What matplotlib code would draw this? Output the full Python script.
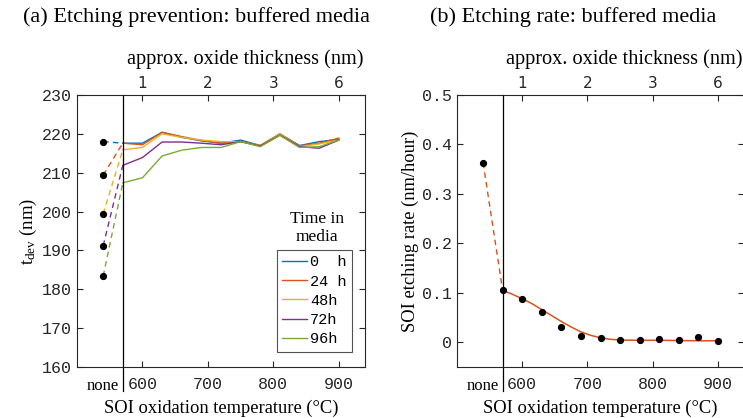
import numpy as np
import matplotlib
matplotlib.use("Agg")
import matplotlib.pyplot as plt

plt.rcParams['mathtext.fontset'] = 'custom'
plt.rcParams['mathtext.rm'] = 'Liberation Serif'
plt.rcParams['mathtext.it'] = 'Liberation Serif'

# ---- data ----
temps = [570, 600, 630, 660, 690, 720, 750, 780, 810, 840, 870, 900]
none_x = 540
series_labels = ["0  h", "24 h", "48h", "72h", "96h"]
series_colors = ["#0072BD", "#D95319", "#EDB120", "#7E2F8E", "#77AC30"]
none_tdev = [218.0, 209.4, 199.4, 191.2, 183.4]
tdev_0h = [217.6, 217.6, 220.4, 219.1, 218.2, 217.6, 218.4, 217.0, 220.0, 217.0, 218.0, 218.6]
tdev_24h = [217.6, 217.2, 220.4, 219.3, 218.3, 217.6, 218.0, 217.0, 220.0, 216.9, 217.6, 218.9]
tdev_48h = [215.9, 216.5, 220.0, 219.1, 218.4, 218.0, 218.0, 217.0, 220.0, 216.7, 217.4, 218.4]
tdev_72h = [211.9, 213.9, 217.9, 217.9, 217.6, 217.2, 218.0, 216.9, 219.7, 216.7, 216.3, 218.4]
tdev_96h = [207.4, 208.7, 214.3, 215.8, 216.5, 216.5, 218.0, 216.7, 219.6, 216.5, 216.7, 218.4]
tdev_all = [tdev_0h, tdev_24h, tdev_48h, tdev_72h, tdev_96h]

rate_none = 0.363
rate = [0.105, 0.0865, 0.061, 0.031, 0.0135, 0.0087, 0.0047, 0.0047, 0.0067, 0.0047, 0.0115, 0.0027]
fit_x = [570, 585, 600, 615, 630, 645, 660, 675, 690, 705, 720, 735, 750, 780, 810, 840, 870, 900]
fit_y = [0.105, 0.097, 0.088, 0.078, 0.066, 0.054, 0.042, 0.031, 0.021, 0.014, 0.009, 0.006,
         0.0045, 0.004, 0.004, 0.0035, 0.003, 0.003]

bottom_ticks = [600, 700, 800, 900]
top_tick_labels = ["1", "2", "3", "6"]

W, H = 743, 418
fig = plt.figure(figsize=(W / 100, H / 100), dpi=100)

serif = "Liberation Serif"
mono = "Liberation Mono"
gray = "#262626"


def setup_axes(ax):
    ax.set_xlim(500, 940)
    ax.set_xticks(bottom_ticks)
    ax.set_xticklabels([str(t) for t in bottom_ticks], family=mono, fontsize=12, color=gray)
    for lab in ax.get_yticklabels():
        lab.set_family(mono)
        lab.set_fontsize(12)
        lab.set_color(gray)
    ax.tick_params(direction="in", length=4, width=0.8, colors=gray, right=True)
    ax.tick_params(axis="x", pad=7)
    for s in ax.spines.values():
        s.set_color(gray)
        s.set_linewidth(0.8)
    ax.set_xlabel("SOI oxidation temperature (°C)", family=serif, fontsize=13.3, labelpad=6)
    ax.axvline(570, color="black", lw=0.9, ymin=-0.09, ymax=1, clip_on=False)
    ax.text(540, -0.04, "none", transform=ax.get_xaxis_transform(), family=serif,
            fontsize=12, ha="center", va="top")
    top = ax.twiny()
    top.set_xlim(ax.get_xlim())
    top.set_xticks(bottom_ticks)
    top.set_xticklabels(top_tick_labels, family="DejaVu Sans", fontsize=11)
    top.tick_params(direction="in", length=4, width=0.8, colors=gray, pad=3)
    for s in top.spines.values():
        s.set_visible(False)
    top.set_xlabel("approx. oxide thickness (nm)", family=serif, fontsize=14.6)
    top.xaxis.set_label_coords(0.583, 1.113)
    return top


# ---- panel (a) ----
axa = fig.add_axes([77 / W, 1 - 367 / H, 288 / W, 272 / H])
axa.set_ylim(160, 230)
axa.set_yticks(np.arange(160, 231, 10))
for vals, v0, col, lab in zip(tdev_all, none_tdev, series_colors, series_labels):
    axa.plot(temps, vals, color=col, lw=1.0, label=lab)
    axa.plot([none_x, temps[0]], [v0, vals[0]], color=col, lw=1.0, dashes=(4, 3))
axa.plot([none_x] * len(none_tdev), none_tdev, "o", color="black", ms=4.2, zorder=5)
handles, labels = axa.get_legend_handles_labels()
leg = axa.legend(handles[:5], labels[:5], loc="upper right", bbox_to_anchor=(0.955, 0.43),
                 borderaxespad=0, prop={"family": mono, "size": 11}, fancybox=False,
                 handlelength=1.65, handletextpad=0.2, labelspacing=0.34, borderpad=0.35)
leg.get_frame().set_edgecolor(gray)
leg.get_frame().set_linewidth(0.8)
axa.text(0.833, 0.511, "Time in\nmedia", transform=axa.transAxes, family=serif, fontsize=12.5,
         ha="center", va="center", linespacing=1.15)
axa.set_ylabel(r"$\mathrm{t_{dev}}$ (nm)", family=serif, fontsize=13.5, labelpad=2)
setup_axes(axa)
fig.text(23 / W, 1 - 17 / H, "(a) Etching prevention: buffered media", family=serif,
         fontsize=16, ha="left", va="center")

# ---- panel (b) ----
axb = fig.add_axes([457 / W, 1 - 367 / H, 287 / W, 272 / H])
axb.set_ylim(-0.05, 0.5)
axb.set_yticks([0, 0.1, 0.2, 0.3, 0.4, 0.5])
axb.set_yticklabels(["0", "0.1", "0.2", "0.3", "0.4", "0.5"])
axb.plot(fit_x, fit_y, color="#D95319", lw=1.1)
axb.plot([none_x, temps[0]], [rate_none, rate[0]], color="#D95319", lw=1.0, dashes=(4, 3))
axb.plot(temps, rate, "o", color="black", ms=4.2, zorder=5)
axb.plot([none_x], [rate_none], "o", color="black", ms=4.2, zorder=5)
axb.set_ylabel("SOI etching rate (nm/hour)", family=serif, fontsize=13.3, labelpad=2)
setup_axes(axb)
fig.text(430 / W, 1 - 17 / H, "(b) Etching rate: buffered media", family=serif,
         fontsize=16, ha="left", va="center")

fig.savefig("out.png", dpi=100)
